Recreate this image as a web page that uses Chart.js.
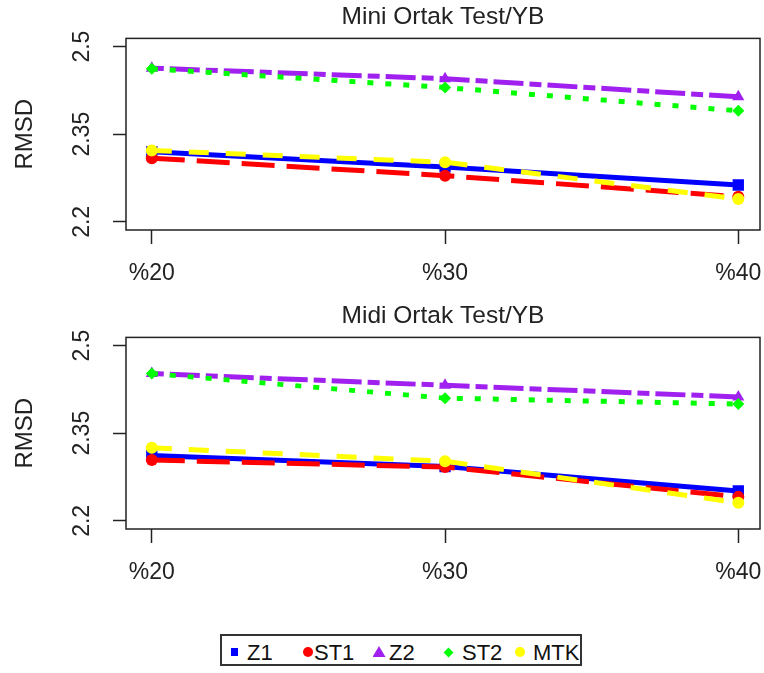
<!DOCTYPE html>
<html>
<head>
<meta charset="utf-8">
<script src="https://cdn.jsdelivr.net/npm/chart.js@4.4.1/dist/chart.umd.min.js"></script>
<style>
  body { margin: 0; background: #fff; width: 764px; height: 673px; position: relative; overflow: hidden;
         font-family: 'Liberation Sans', Arial, sans-serif; }
  /* a little wider than the page: Chart.js keeps ~8px on the right */
  .panel { position: absolute; left: 0; width: 768px; height: 299px; }
  #legend { position: absolute; left: 220px; top: 634px; width: 362px; height: 32px;
            box-sizing: border-box; border: 2px solid #333; }
  .mk { position: absolute; }
  .lb { position: absolute; font-size: 22px; line-height: 22px; color: #111; }
</style>
</head>
<body>
<div class="panel" style="top:0"><canvas id="mini"></canvas></div>
<div class="panel" style="top:299px"><canvas id="midi"></canvas></div>
<div id="legend"></div>
<script>
'use strict';

// Data
const categories = ['%20', '%30', '%40'];
const seriesNames = ['Z1', 'ST1', 'Z2', 'ST2', 'MTK'];
const yTicks = [2.2, 2.35, 2.5];

// Mini Ortak Test/YB
const miniZ1 = [2.320, 2.294, 2.263];
const miniST1 = [2.309, 2.279, 2.243];
const miniZ2 = [2.463, 2.445, 2.414];
const miniST2 = [2.462, 2.430, 2.390];
const miniMTK = [2.322, 2.302, 2.239];

// Midi Ortak Test/YB
const midiZ1 = [2.312, 2.293, 2.251];
const midiST1 = [2.304, 2.292, 2.241];
const midiZ2 = [2.452, 2.432, 2.412];
const midiST2 = [2.452, 2.410, 2.400];
const midiMTK = [2.325, 2.302, 2.231];

const styles = [
  { color: '#0000FF', dash: [], point: 'rect', radius: 8 },
  { color: '#FF0000', dash: [33, 12], point: 'circle', radius: 6 },
  { color: '#A020F0', dash: [12, 6, 30, 6], point: 'triangle', radius: 7 },
  { color: '#00FF00', dash: [6, 12], point: 'rectRot', radius: 6 },
  { color: '#FFFF00', dash: [20, 17], point: 'circle', radius: 6 }
];

const font = { family: "'Liberation Sans', Arial, sans-serif", size: 23 };
const ink = '#222';

// box round the plot area
const boxPlugin = {
  id: 'box',
  afterDraw(chart) {
    const a = chart.chartArea;
    const ctx = chart.ctx;
    ctx.save();
    ctx.strokeStyle = ink;
    ctx.lineWidth = 1.5;
    ctx.strokeRect(a.left, a.top, a.right - a.left, a.bottom - a.top);
    ctx.restore();
  }
};

function makeChart(id, title, values) {
  let datasets = seriesNames.map((name, i) => ({
    label: name,
    data: values[i].map((v, j) => ({ x: j + 1, y: v })),
    borderColor: styles[i].color,
    backgroundColor: styles[i].color,
    borderWidth: 5,
    borderDash: styles[i].dash,
    pointStyle: styles[i].point,
    pointRadius: styles[i].radius,
    pointBorderWidth: 0,
    tension: 0,
    order: seriesNames.length - i
  }));

  return new Chart(document.getElementById(id), {
    type: 'line',
    data: { datasets: datasets },
    plugins: [boxPlugin],
    options: {
      responsive: true,
      maintainAspectRatio: false,
      animation: false,
      layout: { padding: { left: 13.5, right: 0, top: 0, bottom: 0 } },
      plugins: {
        legend: { display: false },
        tooltip: { enabled: false },
        title: {
          display: true,
          text: title,
          fullSize: false,
          color: ink,
          font: { family: font.family, size: 24.5, weight: 'normal', lineHeight: 1.2 },
          padding: { top: 3, bottom: 6 }
        }
      },
      scales: {
        x: {
          type: 'linear',
          min: 0.912,
          max: 3.074,
          afterBuildTicks: s => { s.ticks = [1, 2, 3].map(v => ({ value: v })); },
          afterFit: s => { s.height = 69; s.paddingLeft = 0; s.paddingRight = 0; },
          ticks: {
            callback: v => categories[v - 1],
            color: ink,
            font: font,
            padding: 16,
            maxRotation: 0,
            autoSkip: false
          },
          grid: { drawOnChartArea: false, tickLength: 14, tickWidth: 1.5, tickColor: ink },
          border: { display: false }
        },
        y: {
          min: 2.186,
          max: 2.514,
          afterBuildTicks: s => { s.ticks = yTicks.map(v => ({ value: v })); },
          afterFit: s => { s.width = 112.5; },
          ticks: {
            callback: v => String(v),
            color: ink,
            font: font,
            minRotation: 90,
            maxRotation: 90,
            crossAlign: 'center',
            padding: 8
          },
          grid: { drawOnChartArea: false, tickLength: 13, tickWidth: 1.5, tickColor: ink },
          border: { display: false },
          title: {
            display: true,
            text: 'RMSD',
            color: ink,
            font: { family: font.family, size: 24, lineHeight: 1 },
            padding: 0
          }
        }
      }
    }
  });
}

makeChart('mini', 'Mini Ortak Test/YB', [miniZ1, miniST1, miniZ2, miniST2, miniMTK]);
makeChart('midi', 'Midi Ortak Test/YB', [midiZ1, midiST1, midiZ2, midiST2, midiMTK]);

// Legend (positions relative to the legend box)
let legend = document.getElementById('legend');
let legendItems = [
  { name: 'Z1', mx: 12, tx: 25 },
  { name: 'ST1', mx: 86, tx: 92 },
  { name: 'Z2', mx: 157, tx: 167 },
  { name: 'ST2', mx: 226, tx: 240 },
  { name: 'MTK', mx: 298, tx: 311 }
];
const markerCss = [
  'width:7px;height:8px;margin:-4px 0 0 -3.5px;',
  'width:10px;height:10px;margin:-5px 0 0 -5px;border-radius:50%;',
  'width:13px;height:11px;margin:-6px 0 0 -6.5px;clip-path:polygon(50% 0,100% 100%,0 100%);',
  'width:7px;height:7px;margin:-3.5px 0 0 -3.5px;transform:rotate(45deg);',
  'width:10px;height:10px;margin:-5px 0 0 -5px;border-radius:50%;'
];
for (let i = 0; i < legendItems.length; i++) {
  let mk = document.createElement('span');
  mk.className = 'mk';
  mk.style.cssText = markerCss[i] + 'left:' + legendItems[i].mx + 'px;top:16px;background:' + styles[i].color + ';';
  legend.appendChild(mk);
  let lb = document.createElement('span');
  lb.className = 'lb';
  lb.textContent = legendItems[i].name;
  lb.style.left = legendItems[i].tx + 'px';
  lb.style.top = '6px';
  legend.appendChild(lb);
}
</script>
</body>
</html>
